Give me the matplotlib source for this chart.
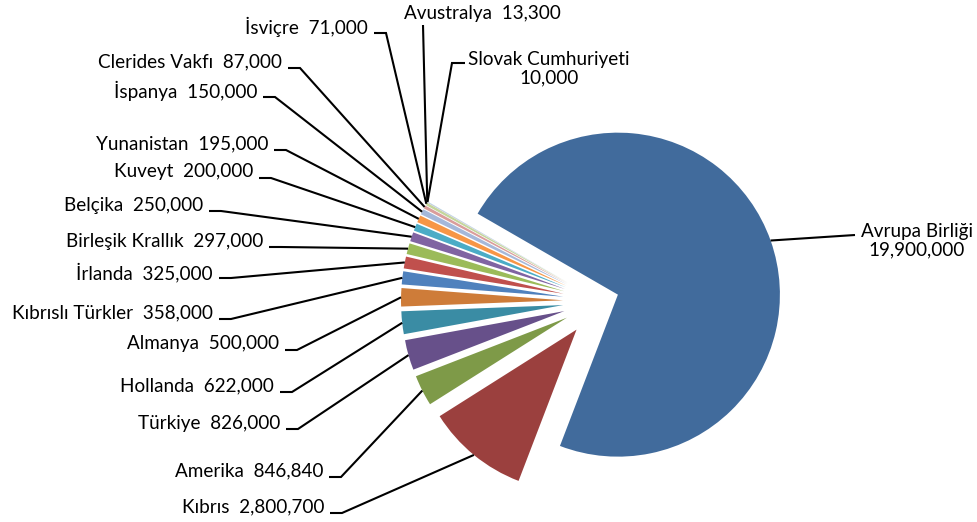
import matplotlib
matplotlib.use("Agg")
import matplotlib.pyplot as plt
import numpy as np

# ---- data ----
categories = ["Avrupa Birliği", "Kıbrıs", "Amerika", "Türkiye", "Hollanda", "Almanya",
              "Kıbrıslı Türkler", "İrlanda", "Birleşik Krallık", "Belçika", "Kuveyt",
              "Yunanistan", "İspanya", "Clerides Vakfı", "İsviçre", "Avustralya",
              "Slovak Cumhuriyeti"]
values = [19900000, 2800700, 846840, 826000, 622000, 500000, 358000, 325000, 297000,
          250000, 200000, 195000, 150000, 87000, 71000, 13300, 10000]

colors = ["#416B9C", "#9B403E", "#7E9A48", "#67508A", "#3A8CA4", "#CE7C39",
          "#4F81BD", "#C0504D", "#9BBB59", "#8064A2", "#4BACC6", "#F79646",
          "#A5B8DA", "#DA9D9B", "#C3D69B", "#B3A2C7", "#93CDDD"]

# ---- layout (pixel coordinates of the 978x522 canvas, y downward) ----
W, H = 978, 522
pie_center = (600, 301)
pie_radius = 162
explode = [19] + [37] * 16

label_pos = {
    "Avrupa Birliği": (917, 241, "center"),
    "Kıbrıs": (324, 507, "right"),
    "Amerika": (323, 471, "right"),
    "Türkiye": (280, 423, "right"),
    "Hollanda": (274, 386, "right"),
    "Almanya": (279, 344, "right"),
    "Kıbrıslı Türkler": (213, 313, "right"),
    "İrlanda": (213, 272, "right"),
    "Birleşik Krallık": (263, 241, "right"),
    "Belçika": (203, 205, "right"),
    "Kuveyt": (253, 172, "right"),
    "Yunanistan": (268, 144, "right"),
    "İspanya": (257, 91, "right"),
    "Clerides Vakfı": (282, 62, "right"),
    "İsviçre": (368, 27, "right"),
    "Avustralya": (482, 13, "center"),
    "Slovak Cumhuriyeti": (549, 69, "center"),
}

font_family = ["Lato", "DejaVu Sans"]
fs = 13.6

fig = plt.figure(figsize=(W / 100, H / 100), dpi=100)
ax = fig.add_axes([0, 0, 1, 1])

wedges, _ = ax.pie(values, colors=colors, startangle=150, counterclock=False,
                   explode=explode, radius=pie_radius,
                   center=(pie_center[0], H - pie_center[1]),
                   wedgeprops=dict(linewidth=0))
ax.set_xlim(0, W)
ax.set_ylim(0, H)
ax.set_aspect("equal")
ax.axis("off")


def edge_point(w):
    th = np.deg2rad(0.5 * (w.theta1 + w.theta2))
    cx, cy = w.center
    return cx + w.r * np.cos(th), cy + w.r * np.sin(th)


line_kw = dict(color="black", lw=1.5, solid_capstyle="butt", solid_joinstyle="miter")

for w, name, v in zip(wedges, categories, values):
    x, y_img, ha = label_pos[name]
    y = H - y_img
    px, py = edge_point(w)
    vtxt = f"{v:,}"
    if name == "Avrupa Birliği":
        ax.text(x, y, f"{name}\n{vtxt}", ha="center", va="center", fontsize=fs,
                family=font_family, linespacing=1.12)
        ax.plot([px, 855], [py, H - 235], **line_kw)
    elif name == "Slovak Cumhuriyeti":
        ax.text(x, y, f"{name}\n{vtxt}", ha="center", va="center", fontsize=fs,
                family=font_family, linespacing=1.12)
        ax.plot([465, 452, px], [H - 63, H - 63, py], **line_kw)
    elif name == "Avustralya":
        ax.text(x, y, f"{name}  {vtxt}", ha="center", va="center", fontsize=fs,
                family=font_family)
        ax.plot([423, px], [H - 25, py], **line_kw)
    else:
        ax.text(x, y, f"{name}  {vtxt}", ha="right", va="center", fontsize=fs,
                family=font_family)
        ly = y - 6
        ax.plot([x + 6, x + 18, px], [ly, ly, py], **line_kw)

fig.savefig("out.png", dpi=100)
